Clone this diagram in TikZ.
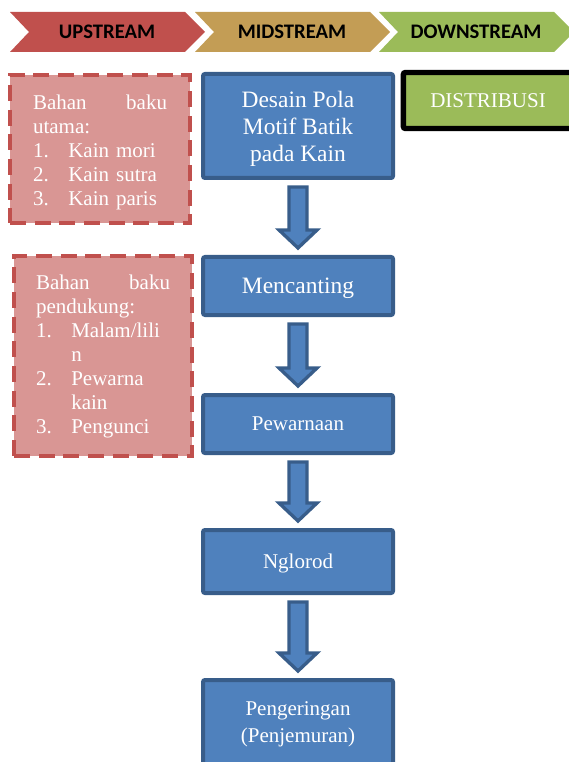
\documentclass[tikz,border=0pt]{standalone}
\usepackage{fontspec}
\setmainfont{Liberation Serif}
\newfontfamily\hdrfont{Carlito}
\usepackage{tikz}
\usetikzlibrary{calc}
\definecolor{upred}{RGB}{192,80,77}
\definecolor{midolive}{RGB}{195,157,85}
\definecolor{downgreen}{RGB}{155,187,89}
\definecolor{rawfill}{RGB}{217,150,148}
\definecolor{stepfill}{RGB}{79,129,189}
\definecolor{stepdraw}{RGB}{56,93,138}
\tikzset{
  hdrlabel/.style={font=\hdrfont\bfseries\fontsize{15.5}{18}\selectfont, text=black},
  rawblock/.style={rectangle, draw=upred, fill=rawfill, line width=3pt,
    dash pattern=on 12pt off 6.5pt, text=white, text width=100.5pt,
    align=left, inner sep=0pt, font=\fontsize{15.75}{18}\selectfont},
  stepblock/.style={rectangle, draw=stepdraw, fill=stepfill, line width=3pt,
    rounded corners=1.5pt, text=white, align=center, minimum width=142.5pt,
    text depth=0pt, font=\fontsize{15.75}{20}\selectfont},
  bigtext/.style={font=\fontsize{17.6}{20.25}\selectfont},
  distblock/.style={rectangle, draw=black, fill=downgreen, line width=4pt,
    rounded corners=1.5pt, text=white, align=center, minimum width=127pt,
    minimum height=42pt, font=\fontsize{15.75}{18}\selectfont},
  blockarrow/.style={draw=stepdraw, fill=stepfill, line width=2.5pt, line join=miter}
}
\newcommand{\itemno}[1]{\makebox[26.5pt][l]{#1}}

\begin{document}
\begin{tikzpicture}[x=0.75pt, y=-0.75pt]
  \useasboundingbox (0,0) rectangle (568,762);

  % Header chevrons
  \foreach \xs/\col/\lbl/\nm in {10/upred/UPSTREAM/up, 195/midolive/MIDSTREAM/mid, 379/downgreen/DOWNSTREAM/down} {
    \fill[\col] (\xs,12) -- (\xs+175,12) -- (\xs+195,32) -- (\xs+175,52) -- (\xs,52) -- (\xs+19,32) -- cycle;
    \node[hdrlabel] (\nm) at (\xs+97,32) {\lbl};
  }

  % Raw materials (upstream)
  \node[rawblock, minimum width=135pt, minimum height=111pt] (utama) at (100,149)
    {\hbox to\linewidth{\rule{0pt}{15.5pt}Bahan\hfill baku}\\
     utama:\\
     \itemno{1.}Kain mori\\
     \itemno{2.}Kain sutra\\
     \itemno{3.}Kain paris};
  \node[rawblock, minimum width=133.5pt, minimum height=150pt] (pendukung) at (103,356)
    {\hbox to\linewidth{Bahan\hfill baku}\\
     pendukung:\\
     \itemno{1.}Malam/lili\\
     \itemno{}n\\
     \itemno{2.}Pewarna\\
     \itemno{}kain\\
     \itemno{3.}Pengunci};

  % Production steps (midstream)
  \node[stepblock, bigtext, minimum height=78pt] (desain) at (298,126) {Desain Pola\\Motif Batik\\pada Kain};
  \node[stepblock, bigtext, minimum height=43.5pt] (mencanting) at (298,286) {Mencanting};
  \node[stepblock, minimum height=43.5pt] (pewarnaan) at (298,424) {Pewarnaan};
  \node[stepblock, minimum height=47.25pt] (nglorod) at (298,561.5) {Nglorod};
  \node[stepblock, minimum height=63pt] (pengeringan) at (298,722) {Pengeringan\\(Penjemuran)};

  % Distribution (downstream)
  \node[distblock] (distribusi) at (488,100.5) {DISTRIBUSI};

  % Block arrows between the steps
  \foreach \a/\b in {desain/mencanting, mencanting/pewarnaan, pewarnaan/nglorod, nglorod/pengeringan} {
    \draw[blockarrow] let \p1=(\a.south), \p2=(\b.north) in
      (\x1-6.75pt,\y1-5.25pt) -- (\x1+6.75pt,\y1-5.25pt) -- (\x1+6.75pt,\y2+18.75pt)
      -- (\x1+14.25pt,\y2+18.75pt) -- (\x1,\y2+5.25pt) -- (\x1-14.25pt,\y2+18.75pt)
      -- (\x1-6.75pt,\y2+18.75pt) -- cycle;
  }
\end{tikzpicture}
\end{document}
